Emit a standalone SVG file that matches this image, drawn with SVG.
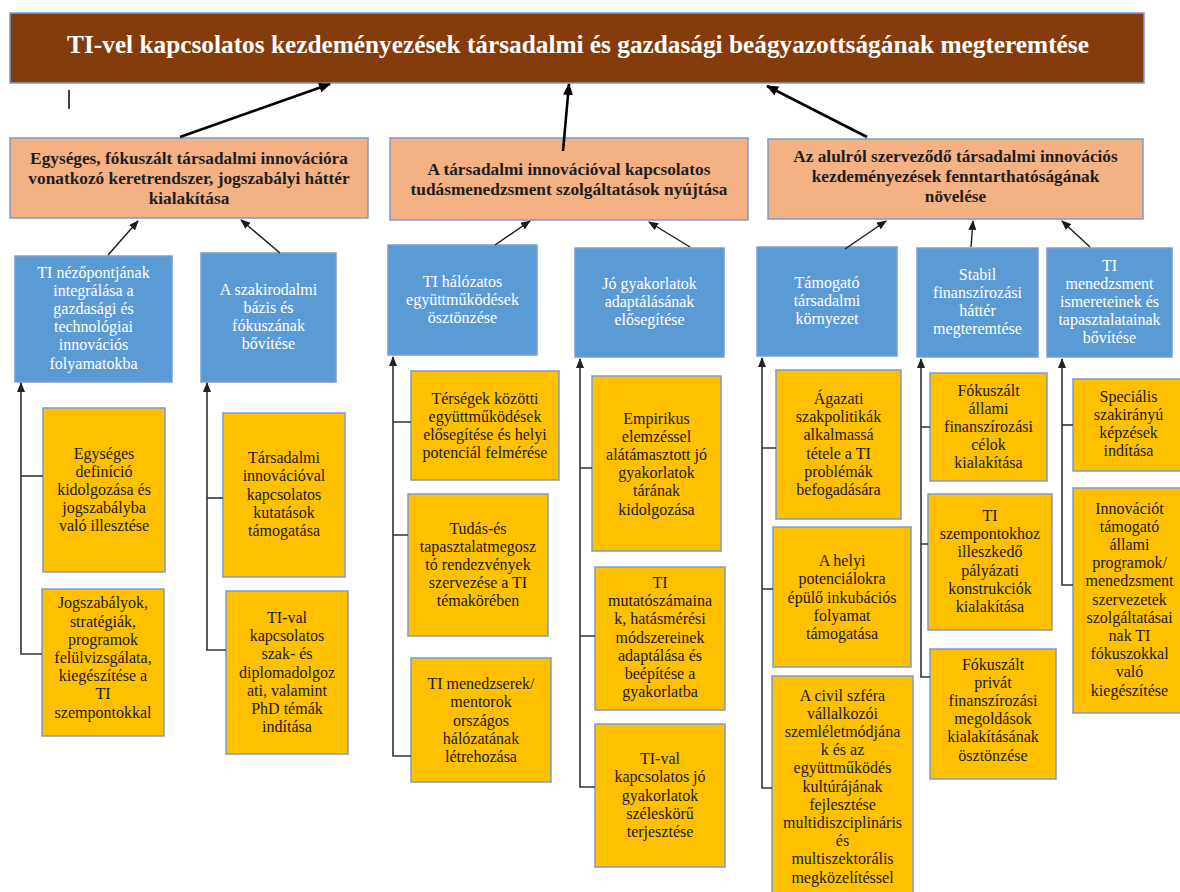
<svg xmlns="http://www.w3.org/2000/svg" width="1180" height="892" viewBox="0 0 1180 892">
<defs>
<style>
.box{stroke:#7B9CCB;stroke-width:1.5}
.top{fill:#843C0C}
.l2{fill:#F4B183}
.l3{fill:#5B9BD5}
.l4{fill:#FFC000}
text{font-family:"Liberation Serif","Times New Roman",serif;text-anchor:middle}
.tt{font-size:25.3px;font-weight:bold;fill:#FFFFFF}
.t2{font-size:17.3px;font-weight:bold;fill:#1E1E1E}
.t3{font-size:16px;fill:#FFFFFF}
.t4{font-size:16px;fill:#1A1A1A}
.thick{stroke:#000;stroke-width:2.6;fill:none}
.thin{stroke:#1A1A1A;stroke-width:1.4;fill:none}
.col{stroke:#333;stroke-width:1.6;fill:none}
</style>
<marker id="ahBig" viewBox="0 0 12 10" refX="11" refY="5" markerWidth="12" markerHeight="10" markerUnits="userSpaceOnUse" orient="auto"><path d="M0,0 L12,5 L0,10 z" fill="#000"/></marker>
<marker id="ahMid" viewBox="0 0 10 8" refX="9" refY="4" markerWidth="10" markerHeight="8" markerUnits="userSpaceOnUse" orient="auto"><path d="M0,0 L10,4 L0,8 z" fill="#1A1A1A"/></marker>
<marker id="ahCol" viewBox="0 0 10 8" refX="9" refY="4" markerWidth="10" markerHeight="8" markerUnits="userSpaceOnUse" orient="auto"><path d="M0,0 L10,4 L0,8 z" fill="#222"/></marker>
</defs>
<rect width="1180" height="892" fill="#FFFFFF"/>

<g id="n-top">
<rect class="box top" x="10" y="13" width="1134" height="70"/>
<text class="tt" x="578" y="53">TI-vel kapcsolatos kezdeményezések társadalmi és gazdasági beágyazottságának megteremtése</text>
</g>

<g id="n-A">
<rect class="box l2" x="10" y="138" width="358" height="80"/>
<text class="t2" x="189" y="164">Egységes, fókuszált társadalmi innovációra<tspan x="189" dy="20">vonatkozó keretrendszer, jogszabályi háttér</tspan><tspan x="189" dy="20">kialakítása</tspan></text>
</g>
<g id="n-B">
<rect class="box l2" x="390" y="138" width="358" height="82"/>
<text class="t2" x="569" y="175">A társadalmi innovációval kapcsolatos<tspan x="569" dy="20">tudásmenedzsment szolgáltatások nyújtása</tspan></text>
</g>
<g id="n-C">
<rect class="box l2" x="768" y="139" width="375" height="80"/>
<text class="t2" x="955.5" y="162">Az alulról szerveződő társadalmi innovációs<tspan x="955.5" dy="20">kezdeményezések fenntarthatóságának</tspan><tspan x="955.5" dy="20">növelése</tspan></text>
</g>

<g id="n-B1">
<rect class="box l3" x="15" y="256" width="157" height="126"/>
<text class="t3" x="93.5" y="277.5">TI nézőpontjának<tspan x="93.5" dy="18.2">integrálása a</tspan><tspan x="93.5" dy="18.2">gazdasági és</tspan><tspan x="93.5" dy="18.2">technológiai</tspan><tspan x="93.5" dy="18.2">innovációs</tspan><tspan x="93.5" dy="18.2">folyamatokba</tspan></text>
</g>
<g id="n-B2">
<rect class="box l3" x="201" y="253" width="135" height="129"/>
<text class="t3" x="268.5" y="294.7">A szakirodalmi<tspan x="268.5" dy="18.2">bázis és</tspan><tspan x="268.5" dy="18.2">fókuszának</tspan><tspan x="268.5" dy="18.2">bővítése</tspan></text>
</g>
<g id="n-B3">
<rect class="box l3" x="388" y="245" width="149" height="110"/>
<text class="t3" x="462.5" y="286.8">TI hálózatos<tspan x="462.5" dy="18.2">együttműködések</tspan><tspan x="462.5" dy="18.2">ösztönzése</tspan></text>
</g>
<g id="n-B4">
<rect class="box l3" x="575" y="248" width="149" height="109"/>
<text class="t3" x="649.5" y="288.8">Jó gyakorlatok<tspan x="649.5" dy="18.2">adaptálásának</tspan><tspan x="649.5" dy="18.2">elősegítése</tspan></text>
</g>
<g id="n-B5">
<rect class="box l3" x="757" y="247" width="140" height="109"/>
<text class="t3" x="827" y="287.8">Támogató<tspan x="827" dy="18.2">társadalmi</tspan><tspan x="827" dy="18.2">környezet</tspan></text>
</g>
<g id="n-B6">
<rect class="box l3" x="917" y="248" width="121" height="109"/>
<text class="t3" x="977.5" y="279.7">Stabil<tspan x="977.5" dy="18.2">finanszírozási</tspan><tspan x="977.5" dy="18.2">háttér</tspan><tspan x="977.5" dy="18.2">megteremtése</tspan></text>
</g>
<g id="n-B7">
<rect class="box l3" x="1047" y="248" width="125" height="109"/>
<text class="t3" x="1109.5" y="270.6">TI<tspan x="1109.5" dy="18.2">menedzsment</tspan><tspan x="1109.5" dy="18.2">ismereteinek és</tspan><tspan x="1109.5" dy="18.2">tapasztalatainak</tspan><tspan x="1109.5" dy="18.2">bővítése</tspan></text>
</g>

<g id="n-Y1">
<rect class="box l4" x="43" y="408" width="122" height="164"/>
<text class="t4" x="104" y="458.6">Egységes<tspan x="104" dy="18.2">definíció</tspan><tspan x="104" dy="18.2">kidolgozása és</tspan><tspan x="104" dy="18.2">jogszabályba</tspan><tspan x="104" dy="18.2">való illesztése</tspan></text>
</g>
<g id="n-Y2">
<rect class="box l4" x="42" y="589" width="122" height="147"/>
<text class="t4" x="103" y="608.4">Jogszabályok,<tspan x="103" dy="18.2">stratégiák,</tspan><tspan x="103" dy="18.2">programok</tspan><tspan x="103" dy="18.2">felülvizsgálata,</tspan><tspan x="103" dy="18.2">kiegészítése a</tspan><tspan x="103" dy="18.2">TI</tspan><tspan x="103" dy="18.2">szempontokkal</tspan></text>
</g>
<g id="n-Y3">
<rect class="box l4" x="223" y="413" width="122" height="164"/>
<text class="t4" x="284" y="463.1">Társadalmi<tspan x="284" dy="18.2">innovációval</tspan><tspan x="284" dy="18.2">kapcsolatos</tspan><tspan x="284" dy="18.2">kutatások</tspan><tspan x="284" dy="18.2">támogatása</tspan></text>
</g>
<g id="n-Y4">
<rect class="box l4" x="226" y="591" width="122" height="163"/>
<text class="t4" x="287" y="622.9">TI-val<tspan x="287" dy="18.2">kapcsolatos</tspan><tspan x="287" dy="18.2">szak- és</tspan><tspan x="287" dy="18.2">diplomadolgoz</tspan><tspan x="287" dy="18.2">ati, valamint</tspan><tspan x="287" dy="18.2">PhD témák</tspan><tspan x="287" dy="18.2">indítása</tspan></text>
</g>
<g id="n-Y5">
<rect class="box l4" x="411" y="371" width="148" height="109"/>
<text class="t4" x="485" y="403.7">Térségek közötti<tspan x="485" dy="18.2">együttműködések</tspan><tspan x="485" dy="18.2">elősegítése és helyi</tspan><tspan x="485" dy="18.2">potenciál felmérése</tspan></text>
</g>
<g id="n-Y6">
<rect class="box l4" x="408" y="494" width="140" height="142"/>
<text class="t4" x="478" y="533.6">Tudás-és<tspan x="478" dy="18.2">tapasztalatmegosz</tspan><tspan x="478" dy="18.2">tó rendezvények</tspan><tspan x="478" dy="18.2">szervezése a TI</tspan><tspan x="478" dy="18.2">témakörében</tspan></text>
</g>
<g id="n-Y7">
<rect class="box l4" x="411" y="658" width="140" height="124"/>
<text class="t4" x="481" y="689.1">TI menedzserek/<tspan x="481" dy="18.2">mentorok</tspan><tspan x="481" dy="18.2">országos</tspan><tspan x="481" dy="18.2">hálózatának</tspan><tspan x="481" dy="18.2">létrehozása</tspan></text>
</g>
<g id="n-Y8">
<rect class="box l4" x="592" y="376" width="129" height="175"/>
<text class="t4" x="656.5" y="423.5">Empirikus<tspan x="656.5" dy="18.2">elemzéssel</tspan><tspan x="656.5" dy="18.2">alátámasztott jó</tspan><tspan x="656.5" dy="18.2">gyakorlatok</tspan><tspan x="656.5" dy="18.2">tárának</tspan><tspan x="656.5" dy="18.2">kidolgozása</tspan></text>
</g>
<g id="n-Y9">
<rect class="box l4" x="595" y="567" width="130" height="143"/>
<text class="t4" x="660" y="587.9">TI<tspan x="660" dy="18.2">mutatószámaina</tspan><tspan x="660" dy="18.2">k, hatásmérési</tspan><tspan x="660" dy="18.2">módszereinek</tspan><tspan x="660" dy="18.2">adaptálása és</tspan><tspan x="660" dy="18.2">beépítése a</tspan><tspan x="660" dy="18.2">gyakorlatba</tspan></text>
</g>
<g id="n-Y10">
<rect class="box l4" x="595" y="724" width="130" height="143"/>
<text class="t4" x="660" y="764.1">TI-val<tspan x="660" dy="18.2">kapcsolatos jó</tspan><tspan x="660" dy="18.2">gyakorlatok</tspan><tspan x="660" dy="18.2">széleskörű</tspan><tspan x="660" dy="18.2">terjesztése</tspan></text>
</g>
<g id="n-Y11">
<rect class="box l4" x="776" y="370" width="125" height="149"/>
<text class="t4" x="838.5" y="404">Ágazati<tspan x="838.5" dy="18.2">szakpolitikák</tspan><tspan x="838.5" dy="18.2">alkalmassá</tspan><tspan x="838.5" dy="18.2">tétele a TI</tspan><tspan x="838.5" dy="18.2">problémák</tspan><tspan x="838.5" dy="18.2">befogadására</tspan></text>
</g>
<g id="n-Y12">
<rect class="box l4" x="773" y="527" width="138" height="140"/>
<text class="t4" x="842" y="566.1">A helyi<tspan x="842" dy="18.2">potenciálokra</tspan><tspan x="842" dy="18.2">épülő inkubációs</tspan><tspan x="842" dy="18.2">folyamat</tspan><tspan x="842" dy="18.2">támogatása</tspan></text>
</g>
<g id="n-Y13">
<rect class="box l4" x="772" y="676" width="141" height="224"/>
<text class="t4" x="842.5" y="700.5">A civil szféra<tspan x="842.5" dy="18.2">vállalkozói</tspan><tspan x="842.5" dy="18.2">szemléletmódjána</tspan><tspan x="842.5" dy="18.2">k és az</tspan><tspan x="842.5" dy="18.2">együttműködés</tspan><tspan x="842.5" dy="18.2">kultúrájának</tspan><tspan x="842.5" dy="18.2">fejlesztése</tspan><tspan x="842.5" dy="18.2">multidiszciplináris</tspan><tspan x="842.5" dy="18.2">és</tspan><tspan x="842.5" dy="18.2">multiszektorális</tspan><tspan x="842.5" dy="18.2">megközelítéssel</tspan></text>
</g>
<g id="n-Y14">
<rect class="box l4" x="930" y="373" width="117" height="108"/>
<text class="t4" x="988.5" y="395.6">Fókuszált<tspan x="988.5" dy="18.2">állami</tspan><tspan x="988.5" dy="18.2">finanszírozási</tspan><tspan x="988.5" dy="18.2">célok</tspan><tspan x="988.5" dy="18.2">kialakítása</tspan></text>
</g>
<g id="n-Y15">
<rect class="box l4" x="928" y="494" width="124" height="136"/>
<text class="t4" x="990" y="521">TI<tspan x="990" dy="18.2">szempontokhoz</tspan><tspan x="990" dy="18.2">illeszkedő</tspan><tspan x="990" dy="18.2">pályázati</tspan><tspan x="990" dy="18.2">konstrukciók</tspan><tspan x="990" dy="18.2">kialakítása</tspan></text>
</g>
<g id="n-Y16">
<rect class="box l4" x="930" y="649" width="126" height="130"/>
<text class="t4" x="993" y="669.5">Fókuszált<tspan x="993" dy="18.2">privát</tspan><tspan x="993" dy="18.2">finanszírozási</tspan><tspan x="993" dy="18.2">megoldások</tspan><tspan x="993" dy="18.2">kialakításának</tspan><tspan x="993" dy="18.2">ösztönzése</tspan></text>
</g>
<g id="n-Y17">
<rect class="box l4" x="1073" y="379" width="112" height="92"/>
<text class="t4" x="1128.5" y="401.7">Speciális<tspan x="1128.5" dy="18.2">szakirányú</tspan><tspan x="1128.5" dy="18.2">képzések</tspan><tspan x="1128.5" dy="18.2">indítása</tspan></text>
</g>
<g id="n-Y18">
<rect class="box l4" x="1073" y="488" width="112" height="225"/>
<text class="t4" x="1129.5" y="513.5">Innovációt<tspan x="1129.5" dy="18.2">támogató</tspan><tspan x="1129.5" dy="18.2">állami</tspan><tspan x="1129.5" dy="18.2">programok/</tspan><tspan x="1129.5" dy="18.2">menedzsment</tspan><tspan x="1129.5" dy="18.2">szervezetek</tspan><tspan x="1129.5" dy="18.2">szolgáltatásai</tspan><tspan x="1129.5" dy="18.2">nak TI</tspan><tspan x="1129.5" dy="18.2">fókuszokkal</tspan><tspan x="1129.5" dy="18.2">való</tspan><tspan x="1129.5" dy="18.2">kiegészítése</tspan></text>
</g>

<g id="connectors">
<line x1="69" y1="90" x2="69" y2="109" stroke="#000" stroke-width="1.5"/>
<line class="thick" x1="180" y1="137" x2="330" y2="84" marker-end="url(#ahBig)"/>
<line class="thick" x1="563" y1="151" x2="569" y2="84" marker-end="url(#ahBig)"/>
<line class="thick" x1="867" y1="137" x2="767" y2="86" marker-end="url(#ahBig)"/>
<line class="thin" x1="108" y1="255" x2="138" y2="221" marker-end="url(#ahMid)"/>
<line class="thin" x1="280" y1="253" x2="241" y2="220" marker-end="url(#ahMid)"/>
<line class="thin" x1="495" y1="245" x2="530" y2="221" marker-end="url(#ahMid)"/>
<line class="thin" x1="690" y1="247" x2="649" y2="222" marker-end="url(#ahMid)"/>
<line class="thin" x1="845" y1="249" x2="886" y2="221" marker-end="url(#ahMid)"/>
<line class="thin" x1="971" y1="247" x2="973" y2="221" marker-end="url(#ahMid)"/>
<line class="thin" x1="1090" y1="247" x2="1062" y2="221" marker-end="url(#ahMid)"/>
<path class="col" d="M42,654 H21 V383" marker-end="url(#ahCol)"/>
<path class="col" d="M21,476 H43"/>
<path class="col" d="M226,650 H207 V383" marker-end="url(#ahCol)"/>
<path class="col" d="M207,498 H223"/>
<path class="col" d="M411,756 H393 V357" marker-end="url(#ahCol)"/>
<path class="col" d="M393,422 H411 M393,535 H408"/>
<path class="col" d="M595,787 H580 V359" marker-end="url(#ahCol)"/>
<path class="col" d="M580,468 H592 M580,636 H595"/>
<path class="col" d="M772,788 H762 V358" marker-end="url(#ahCol)"/>
<path class="col" d="M762,448 H776 M762,589 H773"/>
<path class="col" d="M930,677 H921 V359" marker-end="url(#ahCol)"/>
<path class="col" d="M921,427 H930 M921,544 H928"/>
<path class="col" d="M1073,585 H1062 V359" marker-end="url(#ahCol)"/>
<path class="col" d="M1062,425 H1073"/>
</g>
</svg>
